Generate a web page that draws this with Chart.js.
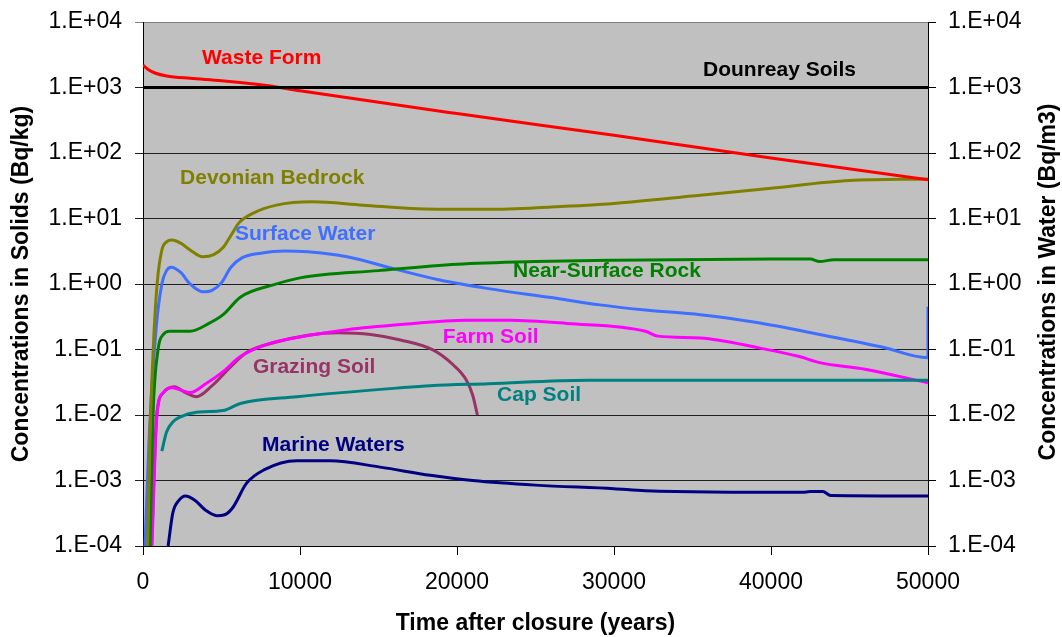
<!DOCTYPE html>
<html lang="en">
<head>
    <meta charset="UTF-8">
    <title>Concentrations after closure</title>
    <script src="https://cdn.jsdelivr.net/npm/chart.js"></script>
    <style>
        * { margin: 0; padding: 0; box-sizing: border-box; }
        body { background: #fff; width: 1062px; height: 637px; overflow: hidden; }
        .chart-box { position: relative; width: 1062px; height: 637px; }
    </style>
</head>
<body>
    <div class="chart-box">
        <canvas id="chart"></canvas>
    </div>

    <script>
        // x ticks (years) and y ticks (log decades)
        const xTicks = [0, 10000, 20000, 30000, 40000, 50000];
        const yTicks = [1e-4, 1e-3, 1e-2, 1e-1, 1e0, 1e1, 1e2, 1e3, 1e4];
        const yTickLabels = ['1.E-04', '1.E-03', '1.E-02', '1.E-01', '1.E+00', '1.E+01', '1.E+02', '1.E+03', '1.E+04'];

        // series: [years, concentration]
        const wasteForm = [[0, 2200], [300, 1900], [800, 1650], [1500, 1500], [3000, 1380], [5000, 1270], [8000, 1060],
            [10000, 890], [20000, 400], [30000, 186], [40000, 84], [50000, 39]];
        const dounreaySoils = [[0, 1000], [50000, 1000]];
        const devonianBedrock = [[300, 1e-4], [450, 0.005], [650, 0.1], [900, 1], [1200, 3.3], [1500, 4.4], [1850, 4.7],
            [2400, 4.2], [3000, 3.3], [3800, 2.6], [4500, 2.8], [5100, 3.6], [5600, 5.5], [6100, 8.5], [7000, 12],
            [8500, 16], [10800, 18], [14000, 16], [18000, 14], [22000, 13.8], [26000, 15], [30000, 17], [35000, 22],
            [40000, 29], [45000, 38], [50000, 40]];
        const surfaceWater = [[130, 1e-4], [400, 0.005], [830, 0.2], [1200, 1.0], [1500, 1.6], [1800, 1.8], [2400, 1.5],
            [3000, 1.0], [3800, 0.76], [4400, 0.8], [5000, 1.05], [5600, 1.8], [6300, 2.5], [7500, 2.95], [9000, 3.2],
            [10500, 3.1], [13000, 2.6], [16000, 1.7], [18900, 1.15], [22000, 0.85], [26000, 0.62], [29100, 0.48],
            [32000, 0.4], [35500, 0.34], [39000, 0.26], [43100, 0.17], [47000, 0.11], [50000, 0.075], [50000, 0.45]];
        const nearSurfaceRock = [[450, 1e-4], [640, 0.01], [960, 0.1], [1300, 0.17], [1700, 0.19], [3000, 0.19],
            [4200, 0.25], [5100, 0.34], [6200, 0.63], [8300, 0.97], [10000, 1.24], [15000, 1.6], [20000, 2.0],
            [25000, 2.2], [30000, 2.3], [40000, 2.4], [42500, 2.4], [43100, 2.2], [44000, 2.35], [50000, 2.35]];
        const farmSoil = [[570, 1e-4], [890, 0.01], [1300, 0.022], [1850, 0.026], [2400, 0.024], [3000, 0.022],
            [4000, 0.03], [5100, 0.046], [6200, 0.078], [7900, 0.12], [10000, 0.155], [13000, 0.2], [16400, 0.24],
            [20600, 0.28], [23400, 0.28], [27000, 0.25], [32000, 0.19], [32800, 0.16], [35500, 0.15], [39300, 0.105],
            [41800, 0.078], [43100, 0.063], [46000, 0.05], [50000, 0.031]];
        const grazingSoil = [[550, 1e-4], [870, 0.01], [1300, 0.022], [2000, 0.027], [2700, 0.022], [3400, 0.019],
            [4400, 0.028], [5500, 0.052], [6600, 0.09], [8500, 0.13], [10500, 0.165], [12400, 0.18], [14500, 0.17],
            [16400, 0.14], [18500, 0.098], [19700, 0.06], [20600, 0.034], [21000, 0.02], [21300, 0.01]];
        const capSoil = [[1200, 0.0028], [1500, 0.0055], [1900, 0.0078], [2350, 0.0093], [3400, 0.011], [5100, 0.0117],
            [6200, 0.015], [9800, 0.019], [16400, 0.026], [18300, 0.028], [22000, 0.03], [28300, 0.034], [50000, 0.034]];
        const marineWaters = [[1600, 1e-4], [1900, 0.00032], [2300, 0.0005], [2700, 0.00058], [3300, 0.0005],
            [4000, 0.00035], [4700, 0.00029], [5200, 0.0003], [5700, 0.00038], [6600, 0.00091], [7700, 0.00145],
            [9800, 0.002], [11900, 0.002], [15100, 0.0016], [18300, 0.0012], [21000, 0.001], [25000, 0.00085],
            [30000, 0.00075], [32000, 0.0007], [42000, 0.00066], [42500, 0.00068], [43300, 0.00068], [43800, 0.00059],
            [50000, 0.00058]];

        const font = "'Liberation Sans', Arial, sans-serif";

        function line(label, points, color, width) {
            return {
                label: label,
                data: points.map(p => ({ x: p[0], y: p[1] })),
                borderColor: color,
                borderWidth: width || 3,
                pointRadius: 0,
                fill: false,
                cubicInterpolationMode: 'monotone'
            };
        }

        const datasets = [
            line('Dounreay Soils', dounreaySoils, '#000000', 3),
            line('Waste Form', wasteForm, '#ff0000'),
            line('Devonian Bedrock', devonianBedrock, '#808000'),
            line('Near-Surface Rock', nearSurfaceRock, '#008000'),
            line('Surface Water', surfaceWater, '#3f6fff'),
            line('Cap Soil', capSoil, '#008080'),
            line('Farm Soil', farmSoil, '#ff00ff'),
            line('Grazing Soil', grazingSoil, '#993366'),
            line('Marine Waters', marineWaters, '#000080')
        ];

        // where each series name is written (data coords, left edge / middle)
        const seriesLabels = [
            { text: 'Waste Form', x: 3760, y: 2800, color: '#ff0000' },
            { text: 'Dounreay Soils', x: 35670, y: 1860, color: '#000000' },
            { text: 'Devonian Bedrock', x: 2360, y: 41, color: '#808000' },
            { text: 'Surface Water', x: 5860, y: 5.8, color: '#3f6fff' },
            { text: 'Near-Surface Rock', x: 23570, y: 1.58, color: '#008000' },
            { text: 'Farm Soil', x: 19100, y: 0.155, color: '#ff00ff' },
            { text: 'Grazing Soil', x: 7000, y: 0.054, color: '#993366' },
            { text: 'Cap Soil', x: 22550, y: 0.0204, color: '#008080' },
            { text: 'Marine Waters', x: 7580, y: 0.0034, color: '#000080' }
        ];

        const plotBackground = {
            id: 'plotBackground',
            beforeDraw(chart) {
                const { ctx, chartArea: a } = chart;
                ctx.save();
                ctx.fillStyle = '#c0c0c0';
                ctx.fillRect(a.left, a.top, a.right - a.left, a.bottom - a.top);
                ctx.restore();
            }
        };

        const textLabels = {
            id: 'textLabels',
            afterDatasetsDraw(chart) {
                const { ctx } = chart;
                const xs = chart.scales.x, ys = chart.scales.y;
                ctx.save();
                ctx.font = 'bold 21px ' + font;
                ctx.textAlign = 'left';
                ctx.textBaseline = 'middle';
                seriesLabels.forEach(l => {
                    ctx.fillStyle = l.color;
                    ctx.fillText(l.text, xs.getPixelForValue(l.x), ys.getPixelForValue(l.y));
                });
                // right axis title, reading bottom to top
                ctx.translate(1049, 282);
                ctx.rotate(-Math.PI / 2);
                ctx.textAlign = 'center';
                ctx.fillStyle = '#000';
                ctx.font = 'bold 23px ' + font;
                ctx.fillText('Concentrations in Water (Bq/m3)', 0, 0);
                ctx.restore();
            }
        };

        const decadeTicks = s => { s.ticks = yTicks.map(v => ({ value: v })); };
        const decadeLabel = v => yTickLabels[yTicks.findIndex(t => Math.abs(Math.log10(t) - Math.log10(v)) < 1e-6)];
        // fixed axis boxes so the plot area sits where it does in the picture
        const fixWidth = w => s => { s.width = w; s.paddingTop = 0; s.paddingBottom = 0; };

        new Chart(document.getElementById('chart'), {
            type: 'line',
            data: { datasets: datasets },
            plugins: [plotBackground, textLabels],
            options: {
                responsive: true,
                maintainAspectRatio: false,
                animation: false,
                layout: { padding: { top: 22, left: 0, right: 0, bottom: 0 } },
                plugins: {
                    legend: { display: false },
                    tooltip: { enabled: false }
                },
                scales: {
                    x: {
                        type: 'linear',
                        min: 0,
                        max: 50000,
                        afterBuildTicks: s => { s.ticks = xTicks.map(v => ({ value: v })); },
                        afterFit: s => { s.height = 91; s.paddingLeft = 0; s.paddingRight = 0; },
                        ticks: {
                            color: '#000',
                            font: { family: font, size: 23 },
                            padding: 14,
                            maxRotation: 0,
                            callback: v => String(v)
                        },
                        grid: { drawOnChartArea: false, drawTicks: true, tickLength: 9, color: '#000' },
                        border: { display: true, color: '#000', width: 1 },
                        title: {
                            display: true,
                            text: 'Time after closure (years)',
                            color: '#000',
                            font: { family: font, size: 23, weight: 'bold' },
                            padding: { top: 0, bottom: 0 }
                        }
                    },
                    y: {
                        type: 'logarithmic',
                        position: 'left',
                        min: 1e-4,
                        max: 1e4,
                        afterBuildTicks: decadeTicks,
                        afterFit: fixWidth(143),
                        ticks: {
                            color: '#000',
                            font: { family: font, size: 23 },
                            padding: 13,
                            autoSkip: false,
                            callback: decadeLabel
                        },
                        grid: {
                            color: c => (c.tick && c.tick.value === 1e4) ? '#808080' : '#202020',
                            lineWidth: 1,
                            tickLength: 8,
                            drawTicks: true
                        },
                        border: { display: true, color: '#000', width: 1 },
                        title: {
                            display: true,
                            text: 'Concentrations in Solids (Bq/kg)',
                            color: '#000',
                            font: { family: font, size: 23, weight: 'bold' },
                            padding: { top: 8, bottom: 0 }
                        }
                    },
                    y2: {
                        type: 'logarithmic',
                        position: 'right',
                        min: 1e-4,
                        max: 1e4,
                        afterBuildTicks: decadeTicks,
                        afterFit: fixWidth(134),
                        ticks: {
                            color: '#000',
                            font: { family: font, size: 23 },
                            padding: 12,
                            autoSkip: false,
                            callback: decadeLabel
                        },
                        grid: { drawOnChartArea: false, tickLength: 8, color: '#000' },
                        border: { display: true, color: '#000', width: 1 }
                    }
                }
            }
        });
    </script>
</body>
</html>
